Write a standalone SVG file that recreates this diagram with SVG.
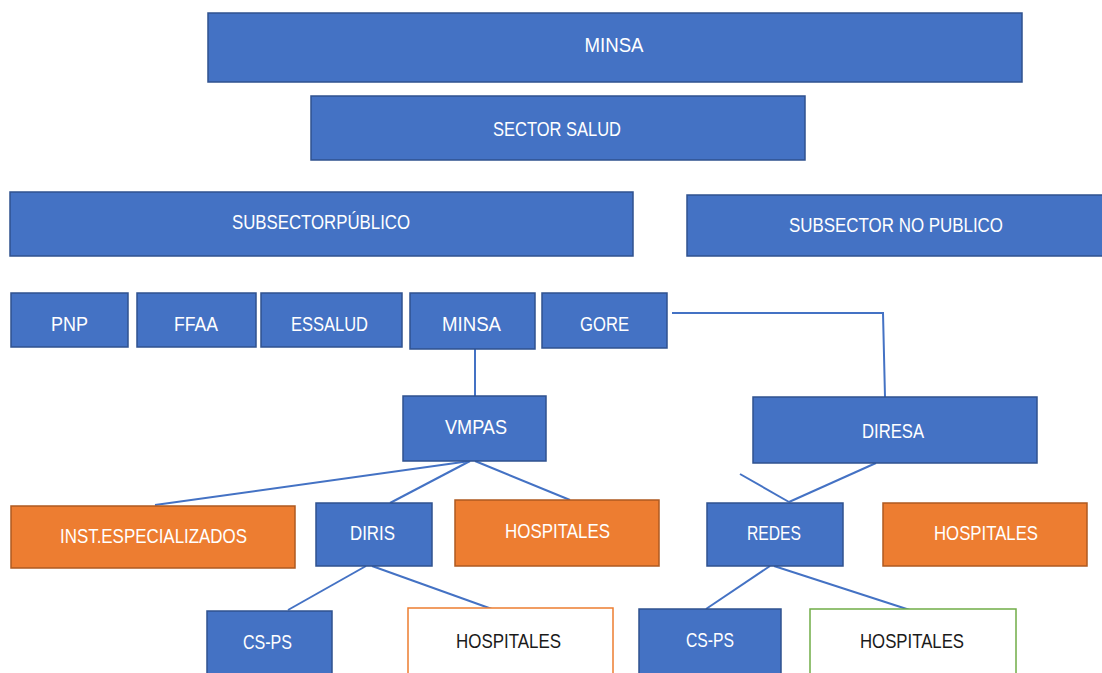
<svg xmlns="http://www.w3.org/2000/svg" width="1102" height="673" viewBox="0 0 1102 673">
<style>
.b{fill:#4472C4;stroke:#2F528F;stroke-width:1.5}
.o{fill:#ED7D31;stroke:#AE5A21;stroke-width:1.5}
.wo{fill:#FFFFFF;stroke:#ED7D31;stroke-width:1.5}
.wg{fill:#FFFFFF;stroke:#70AD47;stroke-width:1.5}
text{font-family:"Liberation Sans",Arial,sans-serif;font-size:21px;text-anchor:middle;dominant-baseline:central;fill:#FFFFFF}
.dk{fill:#1a1a1a}
.c line,.c polyline{stroke:#4472C4;stroke-width:2;fill:none}
</style>
<rect width="1102" height="673" fill="#FFFFFF"/>
<g class="c" id="connectors">
<line x1="475" y1="349" x2="475" y2="396"/>
<polyline points="672,313 883,313 885,397"/>
<line x1="470" y1="461" x2="155" y2="505"/>
<line x1="470" y1="461" x2="390" y2="503"/>
<line x1="475" y1="461" x2="570" y2="500"/>
<line x1="876" y1="463" x2="789" y2="502"/>
<line x1="740" y1="474" x2="789" y2="502"/>
<line x1="366" y1="566" x2="288" y2="610"/>
<line x1="372" y1="566" x2="503" y2="613"/>
<line x1="770" y1="566" x2="706" y2="609"/>
<line x1="774" y1="566" x2="916" y2="612"/>
</g>
<g id="minsa-top"><rect class="b" x="208" y="13" width="814" height="69"/><text x="614" y="44" textLength="59" lengthAdjust="spacingAndGlyphs">MINSA</text></g>
<g id="sector-salud"><rect class="b" x="311" y="96" width="494" height="64"/><text x="557" y="128" textLength="128" lengthAdjust="spacingAndGlyphs">SECTOR SALUD</text></g>
<g id="subsector-publico"><rect class="b" x="10" y="192" width="623" height="64"/><text x="321" y="221" textLength="178" lengthAdjust="spacingAndGlyphs">SUBSECTORPÚBLICO</text></g>
<g id="subsector-no-publico"><rect class="b" x="687" y="195" width="420" height="61"/><text x="896" y="224" textLength="214" lengthAdjust="spacingAndGlyphs">SUBSECTOR NO PUBLICO</text></g>
<g id="pnp"><rect class="b" x="11" y="293" width="117" height="54"/><text x="69.5" y="323" textLength="37" lengthAdjust="spacingAndGlyphs">PNP</text></g>
<g id="ffaa"><rect class="b" x="137" y="293" width="119" height="54"/><text x="196" y="323" textLength="44" lengthAdjust="spacingAndGlyphs">FFAA</text></g>
<g id="essalud"><rect class="b" x="261" y="293" width="141" height="54"/><text x="329.5" y="323" textLength="77" lengthAdjust="spacingAndGlyphs">ESSALUD</text></g>
<g id="minsa"><rect class="b" x="410" y="293" width="125" height="56"/><text x="471.5" y="323" textLength="59" lengthAdjust="spacingAndGlyphs">MINSA</text></g>
<g id="gore"><rect class="b" x="542" y="293" width="125" height="55"/><text x="604.5" y="323" textLength="49" lengthAdjust="spacingAndGlyphs">GORE</text></g>
<g id="vmpas"><rect class="b" x="403" y="396" width="143" height="65"/><text x="476" y="426" textLength="62" lengthAdjust="spacingAndGlyphs">VMPAS</text></g>
<g id="diresa"><rect class="b" x="753" y="397" width="284" height="66"/><text x="893" y="430" textLength="62" lengthAdjust="spacingAndGlyphs">DIRESA</text></g>
<g id="inst"><rect class="o" x="11" y="506" width="284" height="62"/><text x="153.5" y="535" textLength="187" lengthAdjust="spacingAndGlyphs">INST.ESPECIALIZADOS</text></g>
<g id="diris"><rect class="b" x="316" y="503" width="116" height="63"/><text x="372.5" y="532" textLength="45" lengthAdjust="spacingAndGlyphs">DIRIS</text></g>
<g id="hospitales-1"><rect class="o" x="455" y="500" width="204" height="66"/><text x="557.5" y="530" textLength="105" lengthAdjust="spacingAndGlyphs">HOSPITALES</text></g>
<g id="redes"><rect class="b" x="707" y="503" width="136" height="63"/><text x="774" y="532" textLength="54" lengthAdjust="spacingAndGlyphs">REDES</text></g>
<g id="hospitales-2"><rect class="o" x="883" y="503" width="204" height="63"/><text x="986" y="532" textLength="104" lengthAdjust="spacingAndGlyphs">HOSPITALES</text></g>
<g id="cs-ps-1"><rect class="b" x="207" y="611" width="125" height="70"/><text x="267.5" y="641" textLength="49" lengthAdjust="spacingAndGlyphs">CS-PS</text></g>
<g id="hospitales-3"><rect class="wo" x="408" y="608" width="205" height="75"/><text class="dk" x="508.5" y="640" textLength="105" lengthAdjust="spacingAndGlyphs">HOSPITALES</text></g>
<g id="cs-ps-2"><rect class="b" x="639" y="609" width="142" height="72"/><text x="710" y="639" textLength="48" lengthAdjust="spacingAndGlyphs">CS-PS</text></g>
<g id="hospitales-4"><rect class="wg" x="810" y="609" width="206" height="74"/><text class="dk" x="912" y="640" textLength="104" lengthAdjust="spacingAndGlyphs">HOSPITALES</text></g>
</svg>
